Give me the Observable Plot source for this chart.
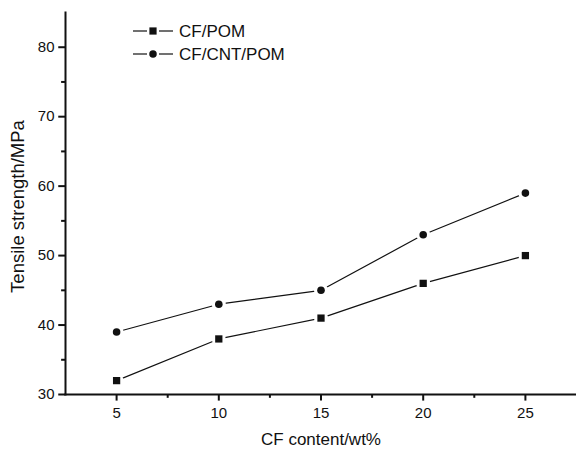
<!DOCTYPE html>
<html><head><meta charset="utf-8">
<script src="https://cdn.jsdelivr.net/npm/d3@7"></script>
<script src="https://cdn.jsdelivr.net/npm/@observablehq/plot@0.6"></script>
<style>body{margin:0;background:#fff}</style>
</head><body><div id="chart"></div>
<script>
const cfContent = [5, 10, 15, 20, 25];
const cfPom = [32, 38, 41, 46, 50];
const cfCntPom = [39, 43, 45, 53, 59];
const seriesNames = ["CF/POM", "CF/CNT/POM"];
const xTicks = [5, 10, 15, 20, 25];
const xMinorTicks = [7.5, 12.5, 17.5, 22.5];
const yTicks = [30, 40, 50, 60, 70, 80];
const yMinorTicks = [35, 45, 55, 65, 75];
const xTitle = "CF content/wt%";
const yTitle = "Tensile strength/MPa";

const rowsPom = cfContent.map((x, i) => ({x, y: cfPom[i], s: seriesNames[0]}));
const rowsCnt = cfContent.map((x, i) => ({x, y: cfCntPom[i], s: seriesNames[1]}));
const rows = rowsPom.concat(rowsCnt);

const font = "'Liberation Sans', Arial, Helvetica, sans-serif";
const ink = "#111";
const xMin = 2.5, xMax = 27.5, yMin = 30, yMax = 85;
// tick lengths expressed through the scales (data units)
const xMajorLen = 0.33, xMinorLen = 0.19;   // along x (for y-axis ticks)
const yMajorLen = 0.95, yMinorLen = 0.55;   // along y (for x-axis ticks)

function legend(index, scales, values, dimensions) {
  const g = d3.create("svg:g").attr("font-family", font).attr("font-size", 17).attr("fill", ink).attr("text-anchor", "start");
  const symbols = [d3.symbolSquare, d3.symbolCircle];
  const sizes = [52, 44];
  seriesNames.forEach((name, i) => {
    const cy = 31 + i * 23;
    g.append("line").attr("x1", 133).attr("x2", 147).attr("y1", cy).attr("y2", cy).attr("stroke", ink).attr("stroke-width", 1.2);
    g.append("line").attr("x1", 159).attr("x2", 173).attr("y1", cy).attr("y2", cy).attr("stroke", ink).attr("stroke-width", 1.2);
    g.append("path").attr("d", d3.symbol(symbols[i], sizes[i])()).attr("transform", `translate(153,${cy})`).attr("fill", ink);
    g.append("text").attr("x", 179).attr("y", cy).attr("dy", "0.36em").text(name);
  });
  return g.node();
}

const chart = Plot.plot({
  width: 576,
  height: 449,
  marginLeft: 65,
  marginRight: 0,
  marginTop: 12,
  marginBottom: 55,
  style: {fontFamily: font, fontSize: "15px", color: ink, background: "#fff", overflow: "visible"},
  x: {domain: [xMin, xMax]},
  y: {domain: [yMin, yMax]},
  marks: [
    Plot.axisX({ticks: xTicks, tickSize: 0, tickPadding: 13, tickFormat: d => d, label: null, fontSize: 15}),
    Plot.axisY({ticks: yTicks, tickSize: 0, tickPadding: 11, tickFormat: d => d, label: null, fontSize: 15}),
    Plot.ruleX(xTicks, {x: d => d, y1: yMin, y2: yMin - yMajorLen, stroke: ink, strokeWidth: 2}),
    Plot.ruleX(xMinorTicks, {x: d => d, y1: yMin, y2: yMin - yMinorLen, stroke: ink, strokeWidth: 2}),
    Plot.ruleY(yTicks, {y: d => d, x1: xMin, x2: xMin - xMajorLen, stroke: ink, strokeWidth: 2}),
    Plot.ruleY(yMinorTicks, {y: d => d, x1: xMin, x2: xMin - xMinorLen, stroke: ink, strokeWidth: 2}),
    Plot.frame({anchor: "left", stroke: ink, strokeWidth: 2}),
    Plot.frame({anchor: "bottom", stroke: ink, strokeWidth: 2}),
    Plot.line(rows, {x: "x", y: "y", z: "s", stroke: ink, strokeWidth: 1.2}),
    Plot.dot(rows, {x: "x", y: "y", r: 7, fill: "#fff"}),
    Plot.dot(rowsPom, {x: "x", y: "y", symbol: "square", r: 4.1, fill: ink}),
    Plot.dot(rowsCnt, {x: "x", y: "y", symbol: "circle", r: 3.8, fill: ink}),
    Plot.text([xTitle], {frameAnchor: "bottom", dy: 50, fontSize: 17, fill: ink}),
    Plot.text([yTitle], {frameAnchor: "left", rotate: -90, dx: -47, dy: 3, textAnchor: "middle", lineAnchor: "middle", fontSize: 18.5, fill: ink}),
    legend
  ]
});
document.getElementById("chart").append(chart);
</script>
</body></html>
